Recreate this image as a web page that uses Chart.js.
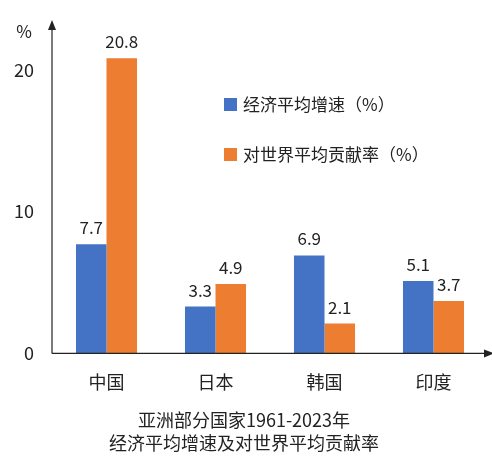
<!DOCTYPE html>
<html><head><meta charset="utf-8">
<script src="https://cdn.jsdelivr.net/npm/chart.js@4"></script>
<style>body{margin:0;background:#fff}#w{width:492px;height:468px}</style>
</head><body><div id="w"><canvas id="c"></canvas></div>
<script>
const categories=["中国","日本","韩国","印度"];
const growth=[7.7,3.3,6.9,5.1];
const contribution=[20.8,4.9,2.1,3.7];
const seriesNames=["经济平均增速（%）","对世界平均贡献率（%）"];
const titleLines=["亚洲部分国家1961-2023年","经济平均增速及对世界平均贡献率"];
const FONT='"Noto Sans CJK SC","Noto Sans",sans-serif';
const extra={id:'extra',afterDraw(ch){
  const c=ch.ctx,a=ch.chartArea;c.save();
  c.strokeStyle='#222';c.fillStyle='#222';c.lineWidth=1.2;
  c.beginPath();c.moveTo(a.left,a.bottom);c.lineTo(a.left,a.top-4);c.moveTo(a.left,a.bottom);c.lineTo(a.right,a.bottom);c.stroke();
  c.beginPath();c.moveTo(a.left,a.top-10);c.lineTo(a.left-4,a.top);c.lineTo(a.left+4,a.top);c.closePath();c.fill();
  c.beginPath();c.moveTo(a.right+6,a.bottom);c.lineTo(a.right-4,a.bottom-4);c.lineTo(a.right-4,a.bottom+4);c.closePath();c.fill();
  c.font='17px '+FONT;c.textAlign='center';c.textBaseline='middle';
  c.fillText('%',a.left-28,a.top+2);
  c.textBaseline='bottom';
  ch.data.datasets.forEach((ds,i)=>{ch.getDatasetMeta(i).data.forEach((b,j)=>{c.fillText(ds.data[j].toFixed(1),b.x,b.y-8);});});
  c.textAlign='left';c.textBaseline='middle';
  ch.data.datasets.forEach((ds,i)=>{const y=105+i*50;c.fillStyle=ds.backgroundColor;c.fillRect(224,y-7,13,13);c.fillStyle='#222';c.fillText(ds.label,243,y);});
  c.restore();}};
new Chart(document.getElementById('c'),{type:'bar',
 data:{labels:categories,datasets:[
  {label:seriesNames[0],data:growth,backgroundColor:'#4472C4'},
  {label:seriesNames[1],data:contribution,backgroundColor:'#ED7D31'}]},
 options:{responsive:true,maintainAspectRatio:false,animation:false,
  layout:{padding:{top:30,right:4,left:0,bottom:14}},
  datasets:{bar:{categoryPercentage:0.56,barPercentage:1}},
  plugins:{legend:{display:false},tooltip:{enabled:false},
   title:{display:true,position:'bottom',text:titleLines,color:'#222',font:{size:18,family:FONT,weight:'normal',lineHeight:1.25},padding:{top:6,bottom:0}}},
  scales:{
   x:{grid:{display:false},border:{display:false},ticks:{color:'#222',font:{size:18,family:FONT},padding:10}},
   y:{min:0,max:22.8,grid:{display:false},border:{display:false},
      afterBuildTicks(s){s.ticks=[0,10,20].map(v=>({value:v}));},
      afterFit(s){s.width=52;},
      ticks:{color:'#222',font:{size:18,family:FONT},padding:10}}}},
 plugins:[extra]});
</script></body></html>
